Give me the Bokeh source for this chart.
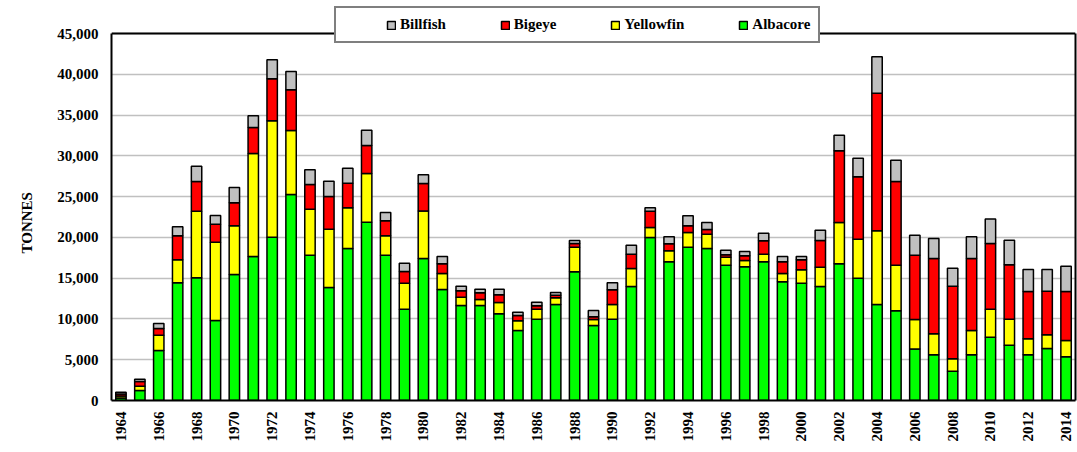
import math
from bokeh.plotting import figure
from bokeh.models import (Range1d, FixedTicker, NumeralTickFormatter, Legend, LegendItem,
                          ColumnDataSource, LinearAxis, Span, Title)
from bokeh.embed import file_html
from bokeh.resources import INLINE

years = list(range(1964, 2015))
albacore = [300, 1230, 6130, 14430, 15040, 9810, 15450, 17660, 20030, 25260,
            17820, 13850, 18640, 21870, 17820, 11200, 17410, 13610, 11650, 11650,
            10630, 8580, 9970, 11770, 15780, 9200, 9970, 13980, 19990, 17000,
            18800, 18640, 16590, 16390, 17000, 14550, 14390, 13980, 16760, 15000,
            11770, 10990, 6330, 5600, 3600, 5600, 7770, 6780, 5600, 6380, 5350]
yellowfin = [250, 530, 1880, 2820, 8170, 9600, 5970, 12620, 14260, 7840,
             5640, 7150, 4980, 5960, 2370, 3190, 5840, 1960, 1020, 730,
             1390, 1190, 1230, 820, 3020, 730, 1800, 2200, 1220, 1350,
             1800, 1750, 980, 780, 940, 1020, 1630, 2370, 5060, 4780,
             9030, 5600, 3600, 2570, 1510, 2980, 3430, 3190, 1960, 1670, 2010]
bigeye = [250, 570, 820, 2940, 3640, 2210, 2820, 3190, 5150, 4990,
          3020, 4000, 3030, 3440, 1840, 1430, 3360, 1190, 780, 820,
          940, 650, 410, 330, 450, 330, 1800, 1760, 2000, 860,
          820, 580, 290, 570, 1640, 1430, 1230, 3270, 8790, 7640,
          16880, 10260, 7890, 9240, 8910, 8830, 8050, 6660, 5800, 5360, 6000]
billfish = [200, 270, 610, 1100, 1880, 1060, 1880, 1430, 2330, 2250,
            1800, 1880, 1840, 1880, 1020, 1020, 1060, 900, 570, 450,
            690, 410, 450, 330, 370, 770, 860, 1110, 410, 860,
            1220, 850, 570, 530, 940, 660, 410, 1260, 1920, 2290,
            4460, 2620, 2450, 2450, 2210, 2660, 3020, 3030, 2700, 2650, 3110]
y_ticks = list(range(0, 45001, 5000))
x_ticks = list(range(1964, 2015, 2))
y_max = 45000

series = ["Albacore", "Yellowfin", "Bigeye", "Billfish"]
colors = ["#00FF00", "#FFFF00", "#FF0000", "#C0C0C0"]

source = ColumnDataSource(dict(year=years, Albacore=albacore, Yellowfin=yellowfin,
                               Bigeye=bigeye, Billfish=billfish))

FONT = "Liberation Serif"

# frame: x 110..1075, y 5..400 ; value 45000 sits at y = 33
px_per_unit = 367 / y_max
y_top = y_max + 28 / px_per_unit

p = figure(width=1077, height=452, output_backend="svg", toolbar_location=None,
           x_range=Range1d(1963.5, 2014.5), y_range=Range1d(0, y_top),
           min_border_left=110, min_border_right=2, min_border_top=5, min_border_bottom=52)

renderers = p.vbar_stack(series, x="year", width=0.55, source=source,
                         fill_color=colors, line_color="black", line_width=1.5)

p.background_fill_color = "white"
p.border_fill_color = "white"
p.outline_line_color = None

p.xgrid.grid_line_color = None
p.ygrid.grid_line_color = "#C0C0C0"
p.ygrid.grid_line_width = 1.5

p.yaxis.ticker = FixedTicker(ticks=y_ticks)
p.yaxis.formatter = NumeralTickFormatter(format="0,0")
p.yaxis.bounds = (0, y_max)
p.xaxis.ticker = FixedTicker(ticks=x_ticks)
p.xaxis.major_label_orientation = math.pi / 2

for ax in (p.xaxis[0], p.yaxis[0]):
    ax.axis_line_color = "black"
    ax.axis_line_width = 2
    ax.major_tick_line_color = None
    ax.minor_tick_line_color = None
    ax.major_tick_out = 0
    ax.major_tick_in = 0
    ax.major_label_text_font = FONT
    ax.major_label_text_font_style = "bold"
    ax.major_label_text_font_size = "15px"
    ax.major_label_text_color = "black"
p.yaxis.major_label_standoff = 13
p.xaxis.major_label_standoff = 11

ylabel = Title(text="TONNES", align="left", offset=147, standoff=36,
               vertical_align="top",
               text_font=FONT, text_font_style="bold", text_font_size="15px",
               text_color="black")
p.add_layout(ylabel, "left")

right_axis = LinearAxis(ticker=FixedTicker(ticks=[]), bounds=(0, y_max),
                        axis_line_color="black", axis_line_width=2,
                        major_tick_line_color=None, minor_tick_line_color=None,
                        major_tick_out=0, major_tick_in=0, major_label_standoff=0,
                        major_label_text_font_size="0px")
p.add_layout(right_axis, "right")

top_line = Span(location=y_max, dimension="width", line_color="black", line_width=2)
p.add_layout(top_line)

items = [LegendItem(label=name, renderers=[r]) for name, r in zip(series, renderers)][::-1]
legend = Legend(items=items, orientation="horizontal", location=(223, 357),
                title=" ", title_location="left", title_text_font_size="1px",
                title_standoff=41,
                label_text_font=FONT, label_text_font_style="bold",
                label_text_font_size="15px", label_text_color="black",
                glyph_width=10, glyph_height=10, label_standoff=4, spacing=54,
                padding=8, border_line_color="black", border_line_width=2,
                background_fill_color="white", background_fill_alpha=1.0)
p.add_layout(legend, "center")

open("out.html", "w").write(file_html(p, INLINE))
